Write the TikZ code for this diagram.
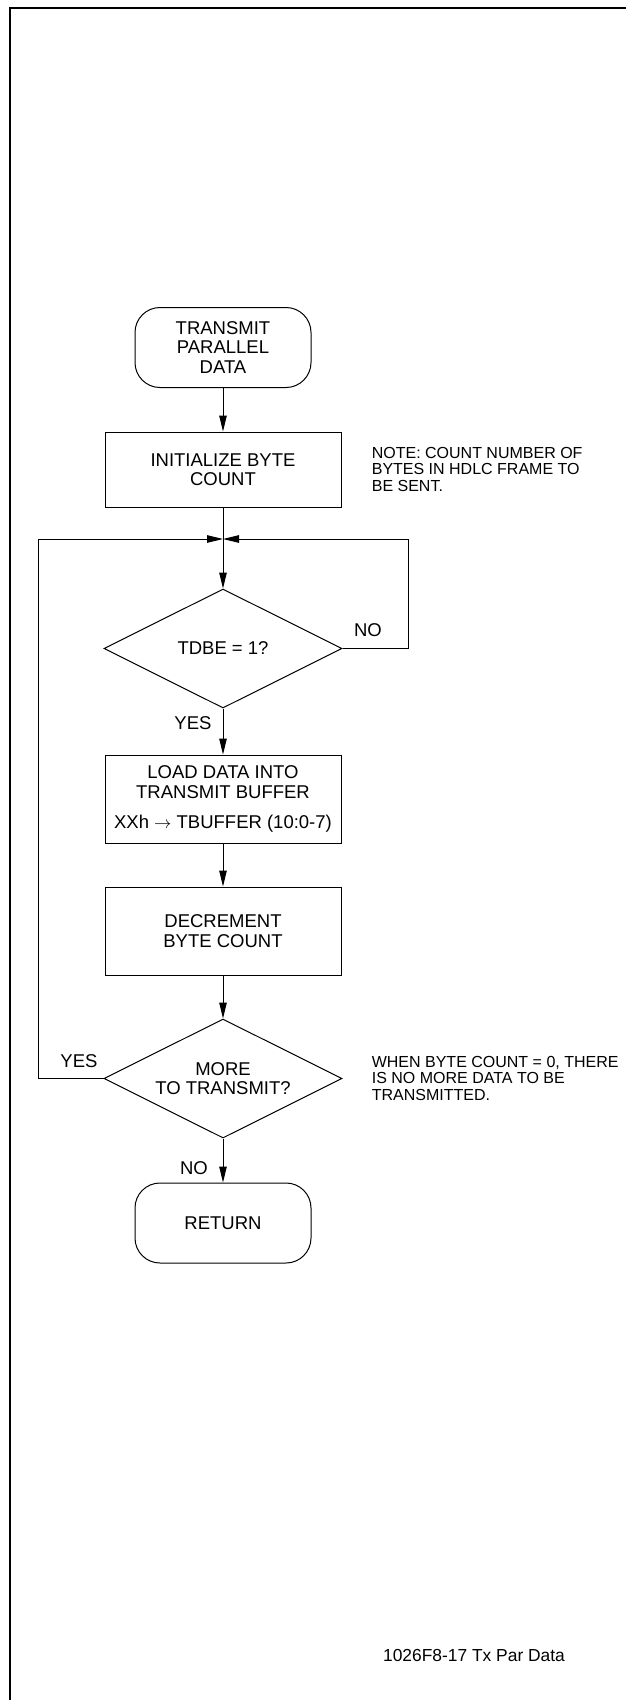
\documentclass[tikz,border=0pt]{standalone}
\usepackage{fontspec}
\setmainfont{Liberation Sans}
\usetikzlibrary{shapes.geometric,arrows.meta}
\tikzset{
  terminal/.style={
    draw,
    rounded corners=25pt,
    minimum width=176pt,
    minimum height=80pt,
    align=center
  },
  process/.style={
    draw,
    minimum width=236pt,
    minimum height=88pt,
    align=center
  },
  decision/.style={
    draw,
    shape=diamond,
    aspect=2,
    inner sep=0pt,
    minimum width=238pt,
    minimum height=119pt,
    align=center
  },
  note/.style={
    anchor=west,
    align=left,
    font=\fontsize{16pt}{16.5pt}\selectfont
  },
  flow/.style={
    -{Triangle[length=16pt,width=7.5pt]}
  },
  every picture/.style={
    x=1pt,
    y=-1pt,
    line width=1pt,
    font=\fontsize{18.5pt}{19.5pt}\selectfont
  }
}

\begin{document}
\begin{tikzpicture}
            \useasboundingbox (0,0) rectangle (626,1700);
            \draw[line width=2pt] (626,8) -- (10,8) -- (10,1700);
            \node[terminal] (start) at (223,347.5) {TRANSMIT\\PARALLEL\\DATA};
            \node[process,minimum height=75pt] (init) at (223,469.5) {INITIALIZE BYTE\\COUNT};
            \node[note] (countnote) at (368,469) {NOTE: COUNT NUMBER OF\\BYTES IN HDLC FRAME TO\\BE SENT.};
            \coordinate (join) at (223,539);
            \node[decision] (tdbe) at (223,648.5) {TDBE = 1?};
            \node (tdbeno) at (368,630) {NO};
            \node (tdbeyes) at (193,723) {YES};
            \node[process] (load) at (223,799) {LOAD DATA INTO\\TRANSMIT BUFFER\\[11pt]XXh $\rightarrow$ TBUFFER (10:0-7)};
            \node[process] (dec) at (223,931) {DECREMENT\\BYTE COUNT};
            \node[decision] (more) at (223,1078.5) {MORE\\TO TRANSMIT?};
            \node[note] (endnote) at (368,1078) {WHEN BYTE COUNT = 0, THERE\\IS NO MORE DATA TO BE\\TRANSMITTED.};
            \node (moreyes) at (79,1061) {YES};
            \node (moreno) at (194,1168) {NO};
            \node[terminal] (ret) at (223,1223) {RETURN};
            \node[font=\fontsize{17.4pt}{18pt}\selectfont] (figid) at (474,1655) {1026F8-17 Tx Par Data};
            \draw[flow] (start) -- (init);
            \draw (init) -- (join);
            \draw[flow] (join) -- (tdbe);
            \draw[flow] (tdbe) -- (load);
            \draw[flow] (load) -- (dec);
            \draw[flow] (dec) -- (more);
            \draw[flow] (more) -- (ret);
            \draw[flow] (tdbe.east) -- ++(66,0) |- (join);
            \draw[flow] (more.west) -- ++(-65,0) |- (join);
        \end{tikzpicture}
\end{document}
